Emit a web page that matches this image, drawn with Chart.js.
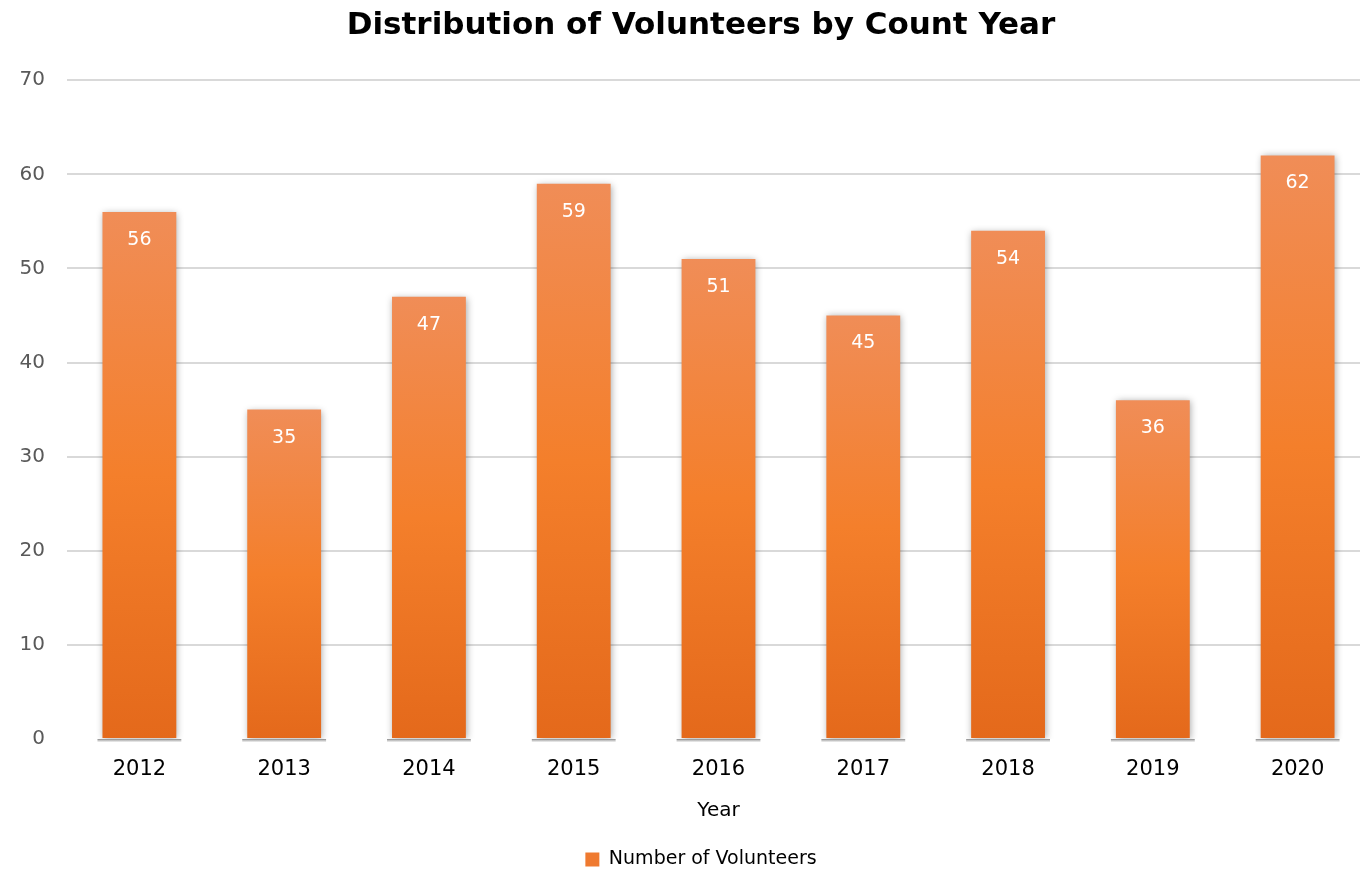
<!DOCTYPE html>
<html>
<head>
<meta charset="utf-8">
<script src="https://cdn.jsdelivr.net/npm/chart.js@4/dist/chart.umd.min.js"></script>
<style>
html,body{margin:0;padding:0;background:#fff;overflow:hidden;width:1360px;height:870px;}
#wrap{position:relative;width:1402px;height:870px;}
</style>
</head>
<body>
<div id="wrap"><canvas id="c" width="1402" height="870"></canvas></div>
<script>
const chartTitle = "Distribution of Volunteers by Count Year";
const years = ["2012","2013","2014","2015","2016","2017","2018","2019","2020"];
const volunteers = [56, 35, 47, 59, 51, 45, 54, 36, 62];
const seriesName = "Number of Volunteers";
const xTitle = "Year";
const yMin = 0, yMax = 70, yStep = 10;

const FONT = "'DejaVu Sans', sans-serif";
const PLOT_BOTTOM = 739;
const BOTTOM_PAD = -9;

function barGradient(ctx) {
  const chart = ctx.chart;
  const area = chart.chartArea;
  if (!area || ctx.type !== 'data') return '#F47F2B';
  const y = chart.scales.y;
  const top = y.getPixelForValue(ctx.parsed ? ctx.parsed.y : volunteers[ctx.dataIndex]);
  const bottom = y.getPixelForValue(0);
  if (!isFinite(top) || !isFinite(bottom) || top === bottom) return '#F47F2B';
  const g = chart.ctx.createLinearGradient(0, top, 0, bottom);
  g.addColorStop(0, '#F08D57');
  g.addColorStop(0.5, '#F47F2B');
  g.addColorStop(1, '#E4691B');
  return g;
}

const shadowPlugin = {
  id: 'barShadow',
  beforeDatasetDraw(chart) {
    const c = chart.ctx;
    c.save();
    c.shadowColor = 'rgba(0,0,0,0.35)';
    c.shadowBlur = 7;
    c.shadowOffsetX = 1;
    c.shadowOffsetY = 1;
  },
  afterDatasetDraw(chart) {
    chart.ctx.restore();
  }
};

const baseLinePlugin = {
  id: 'baseLines',
  beforeDatasetsDraw(chart) {
    const c = chart.ctx;
    const meta = chart.getDatasetMeta(0);
    const y0 = chart.scales.y.getPixelForValue(0);
    c.save();
    meta.data.forEach(bar => {
      const w = bar.width;
      const grad = c.createLinearGradient(0, y0, 0, y0 + 4);
      grad.addColorStop(0, 'rgba(120,120,120,0.9)');
      grad.addColorStop(1, 'rgba(200,200,200,0)');
      c.fillStyle = grad;
      c.fillRect(bar.x - w / 2 - 5, y0, w + 10, 3);
    });
    c.restore();
  }
};

const labelPlugin = {
  id: 'valueLabels',
  afterDatasetsDraw(chart) {
    const c = chart.ctx;
    const meta = chart.getDatasetMeta(0);
    c.save();
    c.fillStyle = '#FFFFFF';
    c.font = "19px " + FONT;
    c.textAlign = 'center';
    c.textBaseline = 'middle';
    meta.data.forEach((bar, i) => {
      c.fillText(String(volunteers[i]), bar.x, bar.y + 28);
    });
    c.restore();
  }
};

new Chart(document.getElementById('c'), {
  type: 'bar',
  data: {
    labels: years,
    datasets: [{
      label: seriesName,
      data: volunteers,
      backgroundColor: barGradient,
      borderWidth: 0,
      categoryPercentage: 1,
      barPercentage: 0.51,
      yAxisID: 'y'
    }]
  },
  options: {
    responsive: false,
    animation: false,
    devicePixelRatio: 1,
    layout: { padding: { left: 0, right: 0, top: 0, bottom: BOTTOM_PAD } },
    plugins: {
      title: {
        display: true,
        text: chartTitle,
        color: '#000000',
        font: { family: FONT, size: 31, weight: 'bold' },
        padding: { top: 7, bottom: 36 }
      },
      legend: {
        display: true,
        position: 'bottom',
        labels: {
          color: '#262626',
          font: { family: FONT, size: 19 },
          boxWidth: 14,
          boxHeight: 14,
          padding: 3,
          generateLabels(chart) {
            return [{
              text: seriesName,
              fillStyle: '#EF7A30',
              strokeStyle: '#EF7A30',
              lineWidth: 0,
              hidden: false,
              datasetIndex: 0
            }];
          }
        }
      },
      tooltip: { enabled: false }
    },
    scales: {
      x: {
        afterFit(scale) {
          const lh = scale.chart.legend ? scale.chart.legend.height : 26;
          scale.height = (870 - BOTTOM_PAD) - PLOT_BOTTOM - lh;
        },
        grid: { display: false, drawTicks: false },
        border: { display: false },
        ticks: {
          color: '#000000',
          font: { family: FONT, size: 21 },
          padding: 18
        },
        title: {
          display: true,
          text: xTitle,
          color: '#000000',
          font: { family: FONT, size: 20 },
          padding: { top: 14, bottom: 24 }
        }
      },
      y: {
        position: 'left',
        min: yMin,
        max: yMax,
        afterFit(scale) { scale.width = 67; },
        grid: {
          color: ctx => (ctx.tick && ctx.tick.value === 0) ? 'rgba(0,0,0,0)' : '#D9D9D9',
          lineWidth: 2,
          drawTicks: false
        },
        border: { display: false },
        ticks: {
          stepSize: yStep,
          color: '#595959',
          font: { family: FONT, size: 20 },
          padding: 22
        }
      },
      yRight: {
        position: 'right',
        min: yMin,
        max: yMax,
        afterFit(scale) { scale.width = 32; },
        grid: { display: false, drawTicks: false },
        border: { display: false },
        ticks: { display: false }
      }
    }
  },
  plugins: [baseLinePlugin, shadowPlugin, labelPlugin]
});
</script>
</body>
</html>
